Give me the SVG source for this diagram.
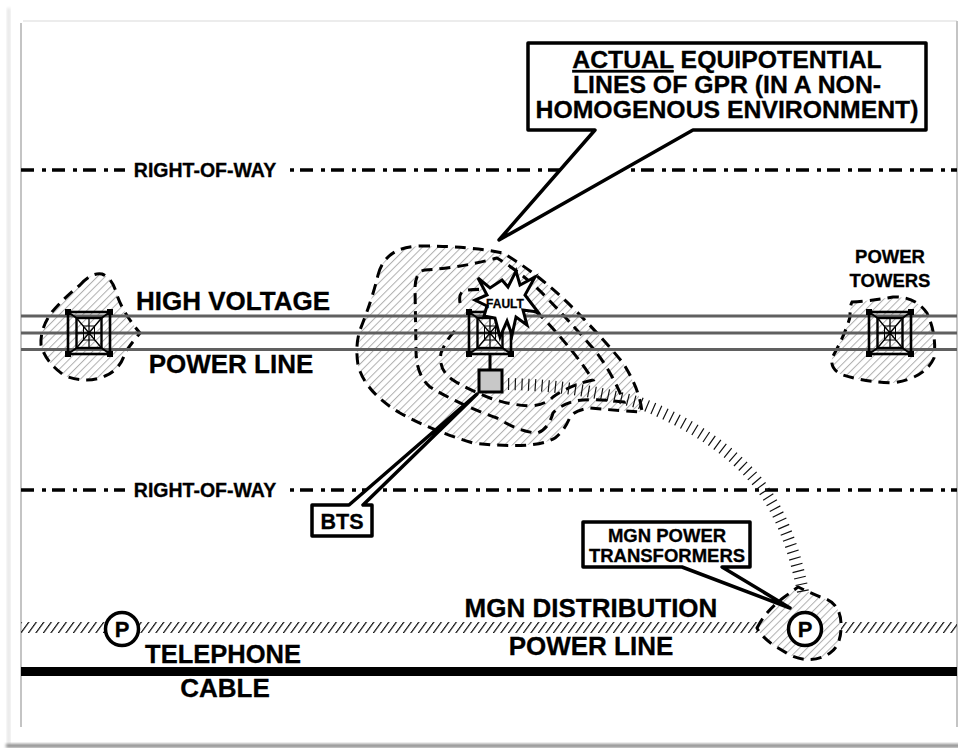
<svg xmlns="http://www.w3.org/2000/svg" width="958" height="748" viewBox="0 0 958 748">
<style>
text{font-family:"Liberation Sans",Arial,sans-serif;font-weight:700;fill:#000;text-anchor:middle;stroke:#000;stroke-width:.3}
.big{font-size:26px}.cal{font-size:24.800px}.row{font-size:19.500px}.mid{font-size:18.500px}
.blob{fill:url(#lh);stroke:#000;stroke-width:3;stroke-dasharray:11 7}
.dash{fill:none;stroke:#000;stroke-width:3;stroke-dasharray:11 7}
.wire{stroke:#606060;stroke-width:3;fill:none}
.rw{stroke:#000;stroke-width:3.500;stroke-dasharray:13 8 4 6;fill:none}
.call{fill:#fff;stroke:#000;stroke-width:3.500;stroke-linejoin:round}
</style>
<defs>
<filter id="sh" x="-5%" y="-50%" width="110%" height="200%"><feGaussianBlur stdDeviation="1.500"/></filter>
<pattern id="lh" width="5.500" height="7" patternUnits="userSpaceOnUse" patternTransform="rotate(45)"><rect width="5.500" height="7" fill="#fff"/><rect width="1" height="7" fill="#b0b0b0"/></pattern>
<pattern id="bh" width="7.500" height="11" patternUnits="userSpaceOnUse" patternTransform="skewX(-36)"><rect width="1.500" height="11" fill="#111"/></pattern>
<symbol id="tower" width="48" height="48" viewBox="0 0 48 48" overflow="visible">
<g fill="none" stroke="#000">
<rect x="3" y="3" width="42" height="42" stroke-width="2.600"/>
<rect x="11.500" y="9" width="25" height="30" stroke-width="2.400"/>
<path d="M3 3L11.500 9M45 3L36.500 9M3 45L11.500 39M45 45L36.500 39" stroke-width="2"/>
<path d="M11.500 9L36.500 39M36.500 9L11.500 39M24 9V39M11.500 24H36.500" stroke-width="1.300"/>
<rect x="18.500" y="17" width="11" height="14" stroke-width="1"/>
</g>
<rect x="0" y="0" width="6" height="6"/><rect x="42" y="0" width="6" height="6"/><rect x="0" y="42" width="6" height="6"/><rect x="42" y="42" width="6" height="6"/>
</symbol>
</defs>
<g id="frame">
<rect width="958" height="748" fill="#fff"/>
<rect x="7" y="8" width="3.500" height="736" fill="#e6e6e6" filter="url(#sh)"/>
<rect x="6" y="744" width="960" height="3.500" fill="#808080" filter="url(#sh)"/>
<path d="M23 21H957" fill="none" stroke="#e6e6e6" stroke-width="1.500"/>
<path d="M21 23V727M957 21V727" fill="none" stroke="#c4c4c4" stroke-width="2"/>
</g>
<g id="connectors">
<path class="rw" d="M21 170H957"/>
<path class="rw" d="M21 490H957"/>
<rect x="125" y="160" width="157" height="20" fill="#fff"/>
<rect x="125" y="480" width="157" height="20" fill="#fff"/>
<rect x="21" y="622" width="936" height="11" fill="url(#bh)"/>
<rect x="21" y="667" width="936" height="9"/>
</g>
<g id="gpr-zones">
<path class="blob" d="M80,285Q92,272 102,274Q112,278 116,292Q122,312 140,333Q130,345 125,353Q120,370 105,376Q88,384 65,376Q45,362 41,345Q40,328 52,312Q66,296 80,285Z"/>
<path class="blob" d="M852,302Q870,301 893,297Q915,296 927,313Q937,335 934,358Q925,378 893,383Q865,382 843,375Q830,370 832,358Q845,335 850,317Q850,305 852,302Z"/>
<path class="blob" d="M757,628Q765,612 783,598L798,587Q815,595 823,598Q840,603 841,623Q842,645 830,653Q812,665 790,655L773,645Q760,635 757,628Z"/>
<path class="blob" d="M378,275Q385,247 420,246Q470,246 503,253Q540,275 573,308Q600,335 623,363Q640,390 642,412Q610,410 590,408Q575,410 570,417Q565,430 555,438Q535,450 473,443Q430,430 400,413Q365,392 358,365Q355,345 360,330Q372,300 378,275Z"/>
<path class="dash" d="M415,287Q416,271 425,270Q460,268 497,258Q525,275 547,298Q575,327 597,353Q612,373 624,402Q590,398 575,401Q560,405 553,413Q548,430 537,433Q520,432 497,418Q460,405 430,387Q416,375 416,350Z"/>
<path class="dash" d="M460,303Q458,290 468,290Q510,285 545,320Q575,352 593,380Q570,385 553,397Q545,405 530,406Q510,405 490,398Q465,388 453,380Q438,370 441,353Q448,335 460,327"/>
<path d="M508,384Q575,385 640,403Q720,435 760,485Q790,525 803,592" fill="none" stroke="#111" stroke-width="12" stroke-dasharray="1.200 5.500"/>
</g>
<g id="power-lines">
<path class="wire" d="M21 316H957M21 333H957M21 349.500H957"/>
</g>
<g id="tower-left"><use href="#tower" x="65" y="309" width="48" height="48"/></g>
<g id="tower-center"><use href="#tower" x="466" y="309" width="48" height="48"/></g>
<g id="tower-right"><use href="#tower" x="866" y="309" width="48" height="48"/></g>
<g id="fault">
<path d="M478,278L490,288L502,280L508,287L516,271L520,285L535,277L525,295L538,312L523,310L527,325L516,317L512,335L507,321L500,337L495,318L484,316L487,306L475,300L487,295Z" fill="#fff" stroke="#000" stroke-width="3" stroke-linejoin="miter"/>
<text x="505" y="308" style="font-size:12px">FAULT</text>
</g>
<g id="bts-unit">
<path d="M490 354V370" stroke="#000" stroke-width="3"/>
<rect x="479" y="370" width="23" height="22" fill="#c8c8c8" stroke="#000" stroke-width="3"/>
</g>
<g id="bts-callout">
<path class="call" d="M312,505H349L477,394L363,505H372V536H312Z"/>
<text x="342" y="529" style="font-size:21.500px">BTS</text>
</g>
<g id="gpr-callout">
<path class="call" d="M528,43H926V130H693L499,240L595,130H528Z"/>
<text x="727" y="68" class="cal"><tspan text-decoration="underline">ACTUAL</tspan> EQUIPOTENTIAL</text>
<text x="727" y="93" class="cal">LINES OF GPR (IN A NON-</text>
<text x="727" y="118" class="cal">HOMOGENOUS ENVIRONMENT)</text>
</g>
<g id="mgn-callout">
<path class="call" d="M583,522H750V567H722L790,608L682,567H583Z"/>
<text x="667" y="542" class="mid">MGN POWER</text>
<text x="667" y="562" class="mid">TRANSFORMERS</text>
</g>
<g id="pole-left"><circle cx="122" cy="629" r="16.500" fill="#fff" stroke="#000" stroke-width="3.500"/><text x="122" y="637" style="font-size:22px">P</text></g>
<g id="pole-right"><circle cx="805" cy="629" r="16.500" fill="#fff" stroke="#000" stroke-width="3.500"/><text x="805" y="637" style="font-size:22px">P</text></g>
<g id="labels">
<text x="205" y="177" class="row">RIGHT-OF-WAY</text>
<text x="205" y="497" class="row">RIGHT-OF-WAY</text>
<text x="233" y="310" class="big">HIGH VOLTAGE</text>
<text x="231" y="373" class="big">POWER LINE</text>
<text x="890" y="263" class="mid">POWER</text>
<text x="890" y="287" class="mid">TOWERS</text>
<text x="591" y="617" class="big">MGN DISTRIBUTION</text>
<text x="591" y="655" class="big">POWER LINE</text>
<text x="223" y="663" style="font-size:25.500px">TELEPHONE</text>
<text x="225" y="697" class="big">CABLE</text>
</g>
</svg>
